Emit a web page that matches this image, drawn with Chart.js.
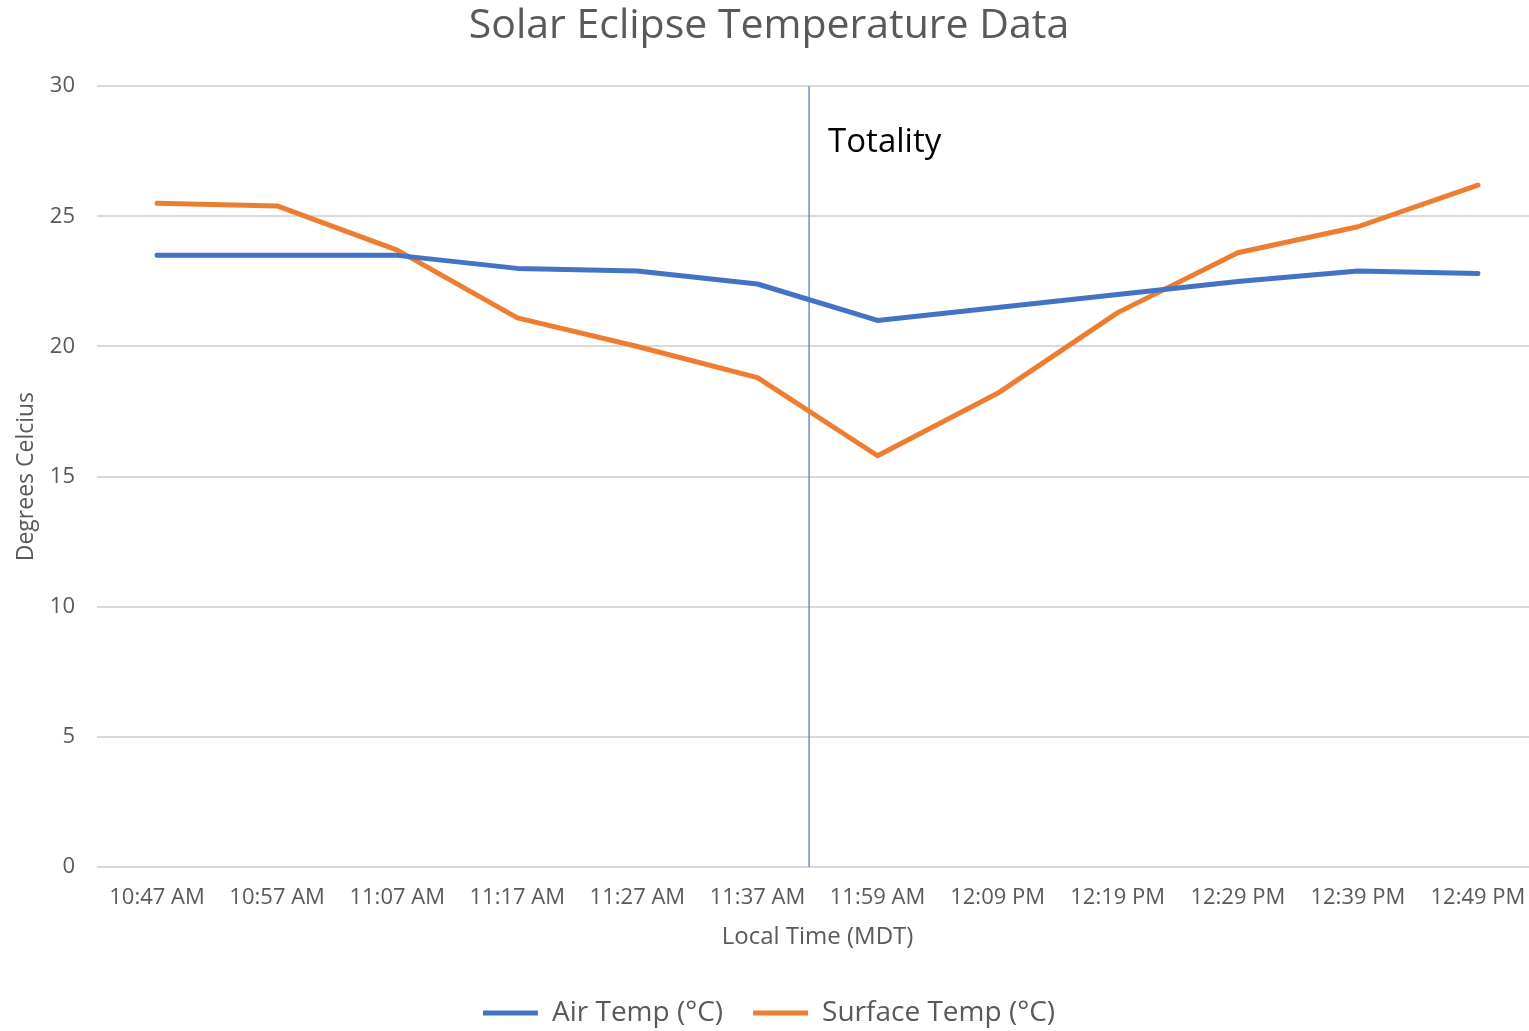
<!DOCTYPE html>
<html>
<head>
<meta charset="utf-8">
<title>Solar Eclipse Temperature Data</title>
<script src="https://cdn.jsdelivr.net/npm/chart.js@4"></script>
<style>
    html, body { margin: 0; padding: 0; background: #fff; overflow: hidden; }
    .chart-wrap { width: 1540px; height: 1031px; }
</style>
</head>
<body>
<div class="chart-wrap"><canvas id="eclipseChart"></canvas></div>
<script>
// Chart data
const timeLabels = ['10:47 AM', '10:57 AM', '11:07 AM', '11:17 AM', '11:27 AM', '11:37 AM',
    '11:59 AM', '12:09 PM', '12:19 PM', '12:29 PM', '12:39 PM', '12:49 PM'];
const airTemp = [23.5, 23.5, 23.5, 23.0, 22.9, 22.4, 21.0, 21.5, 22.0, 22.5, 22.9, 22.8];
const surfaceTemp = [25.5, 25.4, 23.7, 21.1, 20.0, 18.8, 15.8, 18.2, 21.3, 23.6, 24.6, 26.2];
const yTicks = [0, 5, 10, 15, 20, 25, 30];

// Totality marker (position along the category axis, label height in degrees)
const totalityLabel = 'Totality';
const totalityIndex = 5.43;
const totalityTextValue = 27.85;

const textColor = '#595959';
const fontFamily = "'Open Sans', 'Noto Sans', sans-serif";

const totalityPlugin = {
    id: 'totality',
    beforeDatasetsDraw(chart) {
        const { ctx, chartArea, scales } = chart;
        const x = scales.x.getPixelForValue(totalityIndex);
        ctx.save();
        ctx.strokeStyle = '#4472C4';
        ctx.lineWidth = 1.2;
        ctx.beginPath();
        ctx.moveTo(x, chartArea.top);
        ctx.lineTo(x, chartArea.bottom);
        ctx.stroke();
        ctx.restore();
    },
    afterDatasetsDraw(chart) {
        const { ctx, scales } = chart;
        const x = scales.x.getPixelForValue(totalityIndex);
        const y = scales.y.getPixelForValue(totalityTextValue);
        ctx.save();
        ctx.fillStyle = '#000';
        ctx.font = `33px ${fontFamily}`;
        ctx.textBaseline = 'middle';
        ctx.fillText(totalityLabel, x + 19, y);
        ctx.restore();
    }
};

function buildChart() {
    const ctx = document.getElementById('eclipseChart');
    new Chart(ctx, {
        type: 'line',
        data: {
            labels: timeLabels,
            datasets: [{
                label: 'Air Temp (°C)',
                data: airTemp,
                borderColor: '#4472C4',
                backgroundColor: '#4472C4',
                borderWidth: 5,
                borderCapStyle: 'round',
                borderJoinStyle: 'round',
                pointRadius: 0,
                tension: 0
            }, {
                label: 'Surface Temp (°C)',
                data: surfaceTemp,
                borderColor: '#ED7D31',
                backgroundColor: '#ED7D31',
                borderWidth: 5,
                borderCapStyle: 'round',
                borderJoinStyle: 'round',
                pointRadius: 0,
                tension: 0
            }]
        },
        options: {
            responsive: true,
            maintainAspectRatio: false,
            animation: false,
            layout: { padding: { top: 0, right: 2, bottom: -6, left: 0 } },
            scales: {
                x: {
                    offset: true,
                    grid: { display: false },
                    border: { display: false },
                    ticks: {
                        color: textColor,
                        font: { family: fontFamily, size: 22 },
                        padding: 10,
                        maxRotation: 0,
                        autoSkip: false
                    },
                    title: {
                        display: true,
                        text: 'Local Time (MDT)',
                        color: textColor,
                        font: { family: fontFamily, size: 24 },
                        padding: { top: 6, bottom: 17 }
                    },
                    afterFit(scale) { scale.height = 102; }
                },
                y: {
                    min: 0,
                    max: 30,
                    afterBuildTicks(scale) { scale.ticks = yTicks.map(v => ({ value: v })); },
                    grid: { color: '#D9D9D9', lineWidth: 2, drawTicks: false },
                    border: { display: false },
                    ticks: {
                        color: textColor,
                        font: { family: fontFamily, size: 22 },
                        padding: 22
                    },
                    title: {
                        display: true,
                        text: 'Degrees Celcius',
                        color: textColor,
                        font: { family: fontFamily, size: 23 },
                        padding: { top: 13, bottom: 0 }
                    },
                    afterFit(scale) { scale.width = 97; }
                }
            },
            plugins: {
                title: {
                    display: true,
                    text: 'Solar Eclipse Temperature Data',
                    color: textColor,
                    font: { family: fontFamily, size: 41, weight: 'normal' },
                    padding: { top: 2, bottom: 35 }
                },
                legend: {
                    position: 'bottom',
                    labels: {
                        usePointStyle: true,
                        pointStyle: 'line',
                        pointStyleWidth: 55,
                        color: textColor,
                        font: { family: fontFamily, size: 28 },
                        padding: 30
                    }
                },
                tooltip: { enabled: false }
            }
        },
        plugins: [totalityPlugin]
    });
}

document.addEventListener('DOMContentLoaded', buildChart);
</script>
</body>
</html>
